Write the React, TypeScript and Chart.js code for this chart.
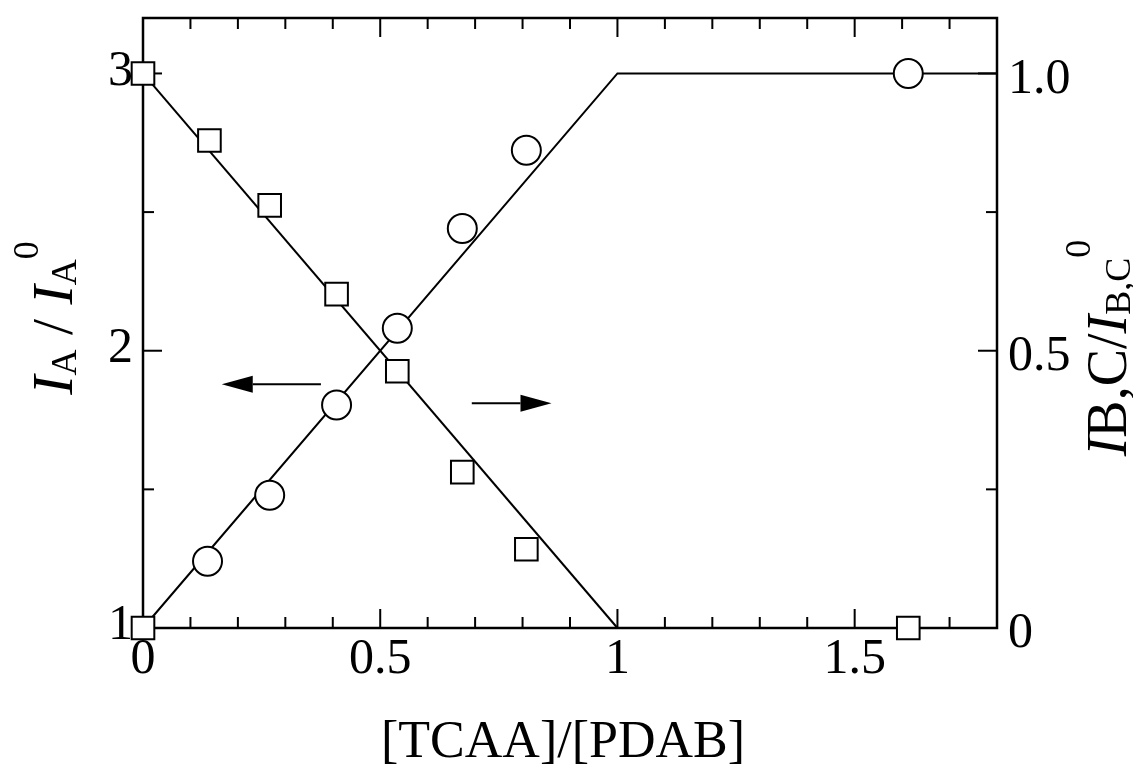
import React, { useEffect, useRef } from "react";
import { Chart, registerables } from "chart.js";

Chart.register(...registerables);

const FONT = "'Liberation Serif', 'Times New Roman', serif";

// [TCAA]/[PDAB] ratios
const squareX = [0, 0.14, 0.267, 0.408, 0.536, 0.673, 0.808, 1.613];
// I_B,C / I_B,C^0 (right axis)
const squareY = [1.0, 0.879, 0.762, 0.602, 0.463, 0.281, 0.142, 0.0];
const circleX = [0, 0.136, 0.267, 0.408, 0.536, 0.673, 0.808, 1.613];
// I_A / I_A^0 (left axis)
const circleY = [1.0, 1.241, 1.479, 1.804, 2.081, 2.441, 2.723, 3.0];

// fitted lines
const circleFitX = [0, 1, 1.8];
const circleFitY = [1, 3, 3];
const squareFitX = [0, 1];
const squareFitY = [1, 0];

// arrows (left-axis units): [tail, tip]
const arrowLeftX = [0.375, 0.166];
const arrowLeftY = [1.879, 1.879];
const arrowRightX = [0.693, 0.861];
const arrowRightY = [1.811, 1.811];

// ticks
const xTickValues = [0, 0.5, 1, 1.5];
const xTickLabels = ["0", "0.5", "1", "1.5"];
const xMinorTicks = [0.1, 0.2, 0.3, 0.4, 0.6, 0.7, 0.8, 0.9, 1.1, 1.2, 1.3, 1.4, 1.6, 1.7];
const yTickValues = [1, 2, 3];
const yTickLabels = ["1", "2", "3"];
const yMinorTicks = [1.5, 2.5];
const y2TickValues = [0, 0.5, 1.0];
const y2TickLabels = ["0", "0.5", "1.0"];
const y2MinorTicks = [0.25, 0.75];

const toPts = (xs: number[], ys: number[]) => xs.map((x, i) => ({ x, y: ys[i] }));

type Part = { text: string; size: number; italic?: boolean; dy?: number };

function drawRich(ctx: CanvasRenderingContext2D, parts: Part[], startX: number, baseY: number) {
  let x = startX;
  for (const p of parts) {
    ctx.font = `${p.italic ? "italic " : ""}${p.size}px ${FONT}`;
    ctx.fillText(p.text, x, baseY + (p.dy || 0));
    x += ctx.measureText(p.text).width;
  }
}
function richWidth(ctx: CanvasRenderingContext2D, parts: Part[]) {
  let w = 0;
  for (const p of parts) {
    ctx.font = `${p.italic ? "italic " : ""}${p.size}px ${FONT}`;
    w += ctx.measureText(p.text).width;
  }
  return w;
}

const framePlugin = {
  id: "frameTicks",
  beforeDatasetsDraw(chart: any) {
    const { ctx, chartArea: a, scales } = chart;
    ctx.save();
    ctx.strokeStyle = "#000";
    ctx.lineCap = "butt";
    ctx.lineWidth = 2.5;
    ctx.strokeRect(a.left, a.top, a.right - a.left, a.bottom - a.top);
    ctx.lineWidth = 2;
    const MAJ = 19, MIN = 11;
    const vline = (px: number, len: number) => {
      ctx.beginPath();
      ctx.moveTo(px, a.bottom);
      ctx.lineTo(px, a.bottom - len);
      ctx.moveTo(px, a.top);
      ctx.lineTo(px, a.top + len);
      ctx.stroke();
    };
    xTickValues.forEach((v) => vline(scales.x.getPixelForValue(v), MAJ));
    xMinorTicks.forEach((v) => vline(scales.x.getPixelForValue(v), MIN));
    const lh = (py: number, len: number) => {
      ctx.beginPath();
      ctx.moveTo(a.left, py);
      ctx.lineTo(a.left + len, py);
      ctx.stroke();
    };
    const rh = (py: number, len: number) => {
      ctx.beginPath();
      ctx.moveTo(a.right, py);
      ctx.lineTo(a.right - len, py);
      ctx.stroke();
    };
    yTickValues.forEach((v) => lh(scales.y.getPixelForValue(v), MAJ));
    yMinorTicks.forEach((v) => lh(scales.y.getPixelForValue(v), MIN));
    y2TickValues.forEach((v) => rh(scales.y2.getPixelForValue(v), MAJ));
    y2MinorTicks.forEach((v) => rh(scales.y2.getPixelForValue(v), MIN));
    ctx.restore();
  },
  afterDatasetsDraw(chart: any) {
    const { ctx, scales } = chart;
    const arrow = (xs: number[], ys: number[]) => {
      const x0 = scales.x.getPixelForValue(xs[0]);
      const x1 = scales.x.getPixelForValue(xs[1]);
      const y0 = scales.y.getPixelForValue(ys[0]);
      const y1 = scales.y.getPixelForValue(ys[1]);
      const dir = Math.sign(x1 - x0);
      const headLen = 31, headHalf = 8.5;
      ctx.save();
      ctx.strokeStyle = "#000";
      ctx.fillStyle = "#000";
      ctx.lineWidth = 2;
      ctx.beginPath();
      ctx.moveTo(x0, y0);
      ctx.lineTo(x1 - dir * headLen, y1);
      ctx.stroke();
      ctx.beginPath();
      ctx.moveTo(x1, y1);
      ctx.lineTo(x1 - dir * headLen, y1 - headHalf);
      ctx.lineTo(x1 - dir * headLen, y1 + headHalf);
      ctx.closePath();
      ctx.fill();
      ctx.restore();
    };
    arrow(arrowLeftX, arrowLeftY);
    arrow(arrowRightX, arrowRightY);
  },
  afterDraw(chart: any) {
    const { ctx } = chart;
    ctx.save();
    ctx.fillStyle = "#000";
    ctx.textBaseline = "alphabetic";
    ctx.textAlign = "left";
    // bottom title
    ctx.font = `52px ${FONT}`;
    const bt = "[TCAA]/[PDAB]";
    const bw = ctx.measureText(bt).width;
    ctx.fillText(bt, 563 - bw / 2, 757);

    // left title
    const leftParts: Part[] = [
      { text: "I", size: 58, italic: true },
      { text: "A", size: 36, dy: 4 },
      { text: " / ", size: 58 },
      { text: "I", size: 58, italic: true },
      { text: "A", size: 36, dy: 4 },
      { text: "0", size: 36, dy: -34 },
    ];
    const lw = richWidth(ctx, leftParts);
    ctx.save();
    ctx.translate(72, 318);
    ctx.rotate(-Math.PI / 2);
    drawRich(ctx, leftParts, -lw / 2, 0);
    ctx.restore();

    // right title
    const rightParts: Part[] = [
      { text: "I", size: 56, italic: true },
      { text: "B,C", size: 56 },
      { text: "/", size: 56 },
      { text: "I", size: 56, italic: true },
      { text: "B,C", size: 36, dy: 4 },
      { text: "0", size: 36, dy: -36 },
    ];
    const rw = richWidth(ctx, rightParts);
    ctx.save();
    ctx.translate(1126, 348);
    ctx.rotate(-Math.PI / 2);
    drawRich(ctx, rightParts, -rw / 2, 0);
    ctx.restore();
    ctx.restore();
  },
};

export default function App() {
  const ref = useRef<HTMLCanvasElement | null>(null);
  useEffect(() => {
    if (!ref.current) return;
    const tickFont = { family: FONT, size: 50 };
    const chart = new Chart(ref.current, {
      type: "scatter",
      data: {
        datasets: [
          {
            label: "circles",
            data: toPts(circleX, circleY),
            yAxisID: "y",
            showLine: false,
            pointStyle: (c: any) => (c.dataIndex === 0 ? "rect" : "circle"),
            pointRadius: (c: any) => (c.dataIndex === 0 ? 16 : 14.5),
            pointBackgroundColor: "#fff",
            pointBorderColor: "#000",
            pointBorderWidth: 2,
            clip: false,
            order: 0,
          } as any,
          {
            label: "squares",
            data: toPts(squareX, squareY),
            yAxisID: "y2",
            showLine: false,
            pointStyle: "rect",
            pointRadius: 16,
            pointBackgroundColor: "#fff",
            pointBorderColor: "#000",
            pointBorderWidth: 2,
            clip: false,
            order: 0,
          } as any,
          {
            label: "circle fit",
            data: toPts(circleFitX, circleFitY),
            yAxisID: "y",
            showLine: true,
            borderColor: "#000",
            borderWidth: 2,
            pointRadius: 0,
            clip: false,
            order: 1,
          } as any,
          {
            label: "square fit",
            data: toPts(squareFitX, squareFitY),
            yAxisID: "y2",
            showLine: true,
            borderColor: "#000",
            borderWidth: 2,
            pointRadius: 0,
            clip: false,
            order: 1,
          } as any,
        ],
      },
      options: {
        responsive: false,
        animation: false,
        devicePixelRatio: 1,
        layout: { padding: { top: 17, left: 0, right: 0, bottom: 0 } },
        plugins: { legend: { display: false }, tooltip: { enabled: false } },
        events: [],
        scales: {
          x: {
            type: "linear",
            position: "bottom",
            min: 0,
            max: 1.8,
            grid: { display: false },
            border: { display: false },
            afterBuildTicks: (s: any) => {
              s.ticks = xTickValues.map((v) => ({ value: v }));
            },
            afterFit: (s: any) => {
              s.height = 143;
              s.paddingLeft = 0;
              s.paddingRight = 0;
            },
            ticks: {
              font: tickFont,
              color: "#000",
              padding: -6,
              maxRotation: 0,
              autoSkip: false,
              callback: (v: any) => {
                const i = xTickValues.indexOf(Number(v));
                return i >= 0 ? xTickLabels[i] : "";
              },
            },
          },
          y: {
            type: "linear",
            position: "left",
            min: 1,
            max: 3.2,
            grid: { display: false },
            border: { display: false },
            afterBuildTicks: (s: any) => {
              s.ticks = yTickValues.map((v) => ({ value: v }));
            },
            afterFit: (s: any) => {
              s.width = 143;
              s.paddingTop = 0;
              s.paddingBottom = 0;
            },
            ticks: {
              font: tickFont,
              color: "#000",
              padding: 2,
              labelOffset: -2,
              autoSkip: false,
              callback: (v: any) => {
                const i = yTickValues.indexOf(Number(v));
                return i >= 0 ? yTickLabels[i] : "";
              },
            },
          },
          y2: {
            type: "linear",
            position: "right",
            min: 0,
            max: 1.1,
            grid: { display: false },
            border: { display: false },
            afterBuildTicks: (s: any) => {
              s.ticks = y2TickValues.map((v) => ({ value: v }));
            },
            afterFit: (s: any) => {
              s.width = 136;
              s.paddingTop = 0;
              s.paddingBottom = 0;
            },
            ticks: {
              font: tickFont,
              color: "#000",
              padding: 3,
              labelOffset: 6,
              autoSkip: false,
              callback: (v: any) => {
                const i = y2TickValues.indexOf(Number(v));
                return i >= 0 ? y2TickLabels[i] : "";
              },
            },
          },
        },
      } as any,
      plugins: [framePlugin],
    });
    return () => chart.destroy();
  }, []);

  return (
    <div style={{ position: "absolute", left: 0, top: 0, width: 1133, height: 771, background: "#fff" }}>
      <canvas ref={ref} width={1133} height={771} style={{ display: "block", width: 1133, height: 771 }} />
    </div>
  );
}
